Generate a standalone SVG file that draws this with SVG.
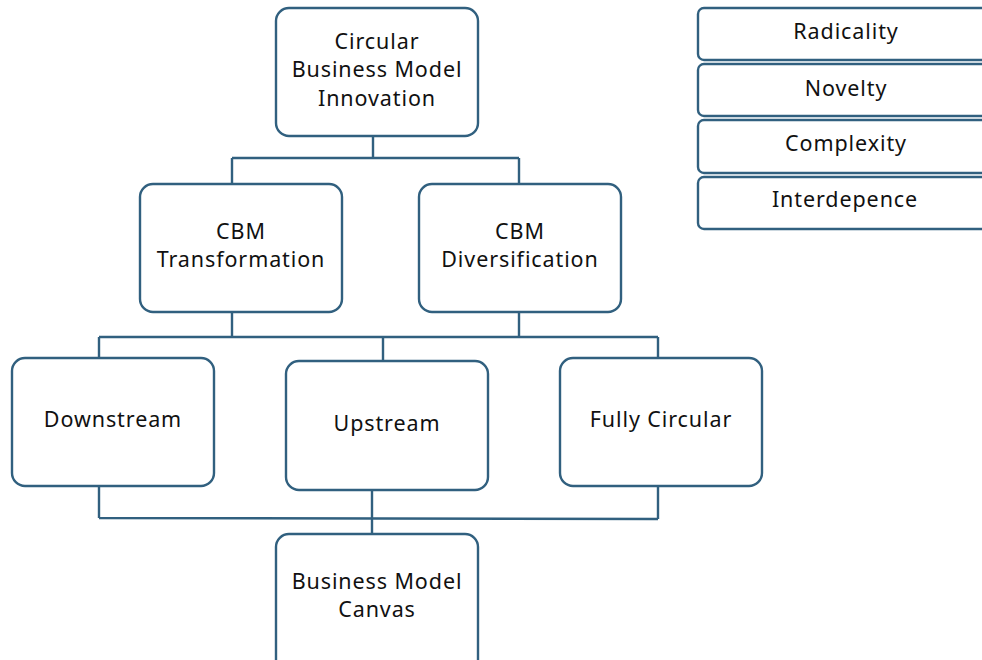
<svg xmlns="http://www.w3.org/2000/svg" width="982" height="660" viewBox="0 0 982 660">
  <style>
    .box { fill: #ffffff; stroke: #31607f; stroke-width: 2.4; }
    .wire { fill: none; stroke: #31607f; stroke-width: 2.4; }
    text { font-family: "Noto Sans", "Open Sans", sans-serif; font-size: 21.5px; font-weight: 400; fill: #111111; text-anchor: middle; letter-spacing: 0.9px; }
  </style>
  <rect width="982" height="660" fill="#ffffff"/>

  <!-- connectors -->
  <g id="connectors">
    <path class="wire" d="M373 136 V158 M232 158 H519 M232 158 V184 M519 158 V184"/>
    <path class="wire" d="M232 312 V337 M519 312 V337 M99 337 H658 M99 337 V358 M383 337 V361 M658 337 V358"/>
    <path class="wire" d="M99 486 V518 M658 486 V519 M99 518 L658 519 M372 490 V537"/>
  </g>

  <g id="cbmi">
    <rect class="box" x="276" y="8" width="202" height="128" rx="13"/>
    <text x="377" y="49">Circular</text>
    <text x="377" y="77">Business Model</text>
    <text x="377" y="106">Innovation</text>
  </g>

  <g id="cbm-transformation">
    <rect class="box" x="140" y="184" width="202" height="128" rx="13"/>
    <text x="241" y="239">CBM</text>
    <text x="241" y="267">Transformation</text>
  </g>

  <g id="cbm-diversification">
    <rect class="box" x="419" y="184" width="202" height="128" rx="13"/>
    <text x="520" y="239">CBM</text>
    <text x="520" y="267">Diversification</text>
  </g>

  <g id="downstream">
    <rect class="box" x="12" y="358" width="202" height="128" rx="13"/>
    <text x="113" y="427">Downstream</text>
  </g>

  <g id="upstream">
    <rect class="box" x="286" y="361" width="202" height="129" rx="13"/>
    <text x="387" y="431">Upstream</text>
  </g>

  <g id="fully-circular">
    <rect class="box" x="560" y="358" width="202" height="128" rx="13"/>
    <text x="661" y="427">Fully Circular</text>
  </g>

  <g id="business-model-canvas">
    <rect class="box" x="276" y="534" width="202" height="140" rx="13"/>
    <text x="377" y="589">Business Model</text>
    <text x="377" y="617">Canvas</text>
  </g>

  <g id="radicality">
    <rect class="box" x="698" y="8" width="296" height="52" rx="6"/>
    <text x="846" y="39">Radicality</text>
  </g>

  <g id="novelty">
    <rect class="box" x="698" y="64" width="296" height="52" rx="6"/>
    <text x="846" y="96">Novelty</text>
  </g>

  <g id="complexity">
    <rect class="box" x="698" y="120" width="296" height="53" rx="6"/>
    <text x="846" y="151">Complexity</text>
  </g>

  <g id="interdepence">
    <rect class="box" x="698" y="177" width="296" height="52" rx="6"/>
    <text x="845" y="207">Interdepence</text>
  </g>
</svg>
